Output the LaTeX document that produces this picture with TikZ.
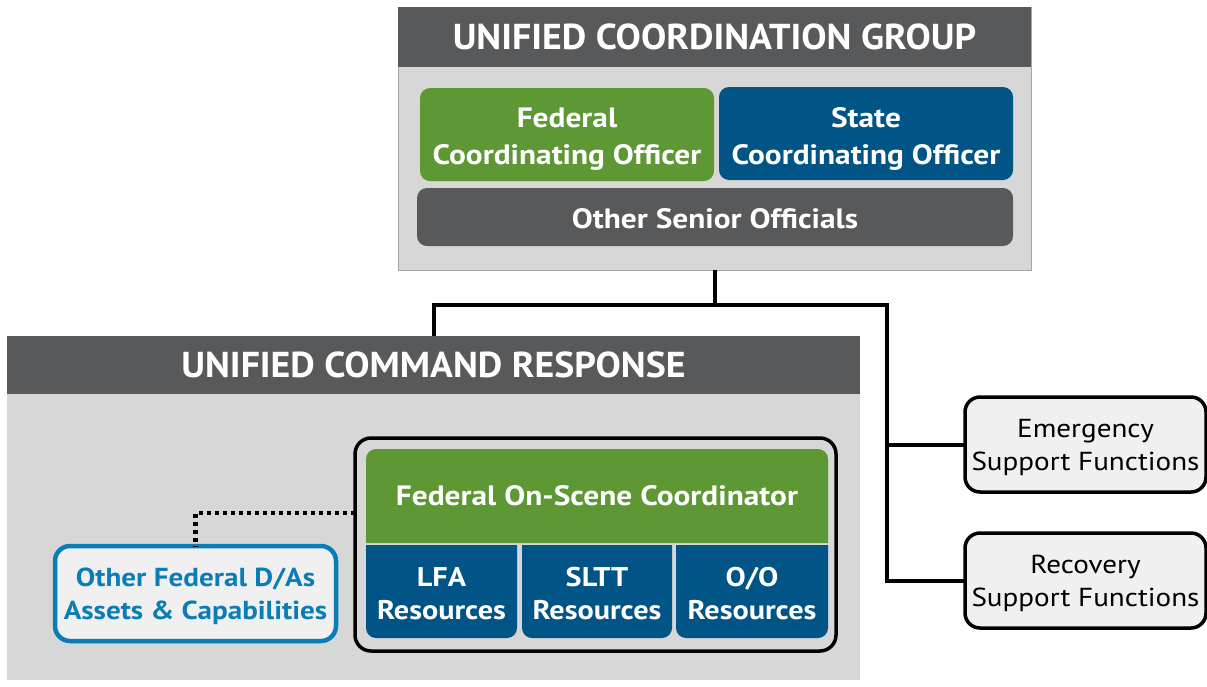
\documentclass[tikz,border=0pt]{standalone}
\usepackage{fontspec}
\setmainfont{PT Sans}
\newfontfamily\hfont[FakeStretch=1.05]{PT Sans}
\newfontfamily\bfont[FakeStretch=1.12]{PT Sans}
\definecolor{hdr}{HTML}{58595B}
\definecolor{bodyg}{HTML}{D7D7D7}
\definecolor{grn}{HTML}{5E9834}
\definecolor{blu}{HTML}{005486}
\definecolor{lbox}{HTML}{F0F0F0}
\definecolor{lblue}{HTML}{0B7DB6}
\tikzset{
  base/.style={anchor=north west, inner sep=0pt, outer sep=0pt},
  panel/.style={base, fill=bodyg, draw=gray!70, line width=1pt},
  header/.style={base, fill=hdr, text=white, font=\hfont\bfseries\fontsize{36}{40}\selectfont},
  cbox/.style={base, rounded corners=10pt},
  tx/.style={inner sep=0pt, align=center, text=white, font=\bfont\bfseries\fontsize{28}{37}\selectfont},
  rtx/.style={tx, font=\bfont\bfseries\fontsize{27}{33}\selectfont},
  sbox/.style={base, rounded corners=15pt, fill=lbox, draw=black, line width=3.5pt},
  stx/.style={inner sep=0pt, align=center, font=\bfont\fontsize{26}{33}\selectfont},
  conn/.style={line width=4pt},
  dots/.style={line width=4.5pt, dash pattern=on 4.5pt off 3.5pt}
}
\begin{document}
\begin{tikzpicture}[x=1pt, y=-1pt]
\useasboundingbox (0,0) rectangle (1207,686);
% Unified Coordination Group
\node[panel, minimum width=633, minimum height=263] (ucg) at (398,7) {};
\node[header, minimum width=633, minimum height=60] (ucgh) at (398,7) {UNIFIED COORDINATION GROUP};
\node[cbox, fill=grn, minimum width=294, minimum height=93] (fco) at (420,88) {};
\node[tx] (fcot) at ([yshift=-5pt]fco.center) {Federal\\Coordinating Officer};
\node[cbox, fill=blu, minimum width=294, minimum height=93] (sco) at (719,87) {};
\node[tx] (scot) at ([yshift=-5pt]sco.center) {State\\Coordinating Officer};
\node[cbox, fill=hdr, minimum width=596, minimum height=58] (oso) at (417,188) {};
\node[tx] (osot) at ([yshift=-2pt]oso.center) {Other Senior Officials};
% Unified Command Response
\node[panel, draw=none, minimum width=853, minimum height=344] (ucr) at (7,336) {};
\node[header, minimum width=853, minimum height=58] (ucrh) at (7,336) {UNIFIED COMMAND RESPONSE};
\node[base, draw=black, line width=3.5pt, rounded corners=16pt, minimum width=481, minimum height=213] (fout) at (355,438) {};
\fill[grn, rounded corners=10pt] (366,543) -- (366,449) -- (828,449) -- (828,543);
\node[base, minimum width=462, minimum height=94] (fosc) at (366,449) {};
\node[tx] (fosct) at (fosc.center) {Federal On-Scene Coordinator};
\fill[blu, rounded corners=10pt] (366,545) -- (366,638) -- (517,638) -- (517,545);
\node[base, minimum width=151, minimum height=93] (lfa) at (366,545) {};
\node[rtx] (lfat) at ([yshift=-2pt]lfa.center) {LFA\\Resources};
\fill[blu, rounded corners=10pt] (522,545) -- (522,638) -- (672,638) -- (672,545);
\node[base, minimum width=150, minimum height=93] (sltt) at (522,545) {};
\node[rtx] (slttt) at ([yshift=-2pt]sltt.center) {SLTT\\Resources};
\fill[blu, rounded corners=10pt] (676,545) -- (676,638) -- (828,638) -- (828,545);
\node[base, minimum width=152, minimum height=93] (oo) at (676,545) {};
\node[rtx] (oot) at ([yshift=-2pt]oo.center) {O/O\\Resources};
\node[base, rounded corners=15pt, fill=lbox, draw=lblue, line width=4.5pt, minimum width=281, minimum height=95] (ofd) at (55,546) {};
\node[rtx, text=lblue, font=\bfont\bfseries\fontsize{26}{33}\selectfont] (ofdt) at ([yshift=-3pt]ofd.center) {Other Federal D/As\\Assets \& Capabilities};
\draw[dots] ([yshift=31.5pt]fout.west) -| (ofd.north);
% Support functions
\node[sbox, minimum width=241, minimum height=95] (esf) at (965,397) {};
\node[stx] (esft) at ([yshift=-3pt]esf.center) {Emergency\\Support Functions};
\node[sbox, minimum width=241, minimum height=95] (rsf) at (965,533) {};
\node[stx] (rsft) at ([yshift=-3pt]rsf.center) {Recovery\\Support Functions};
% Connectors
\coordinate (tr) at (887,305);
\draw[conn] (ucg.south) -- (ucg.south |- tr);
\draw[conn] (ucrh.north) |- (tr) |- (rsf.west);
\draw[conn] (esf.west) -- (esf.west -| tr);
\end{tikzpicture}
\end{document}
